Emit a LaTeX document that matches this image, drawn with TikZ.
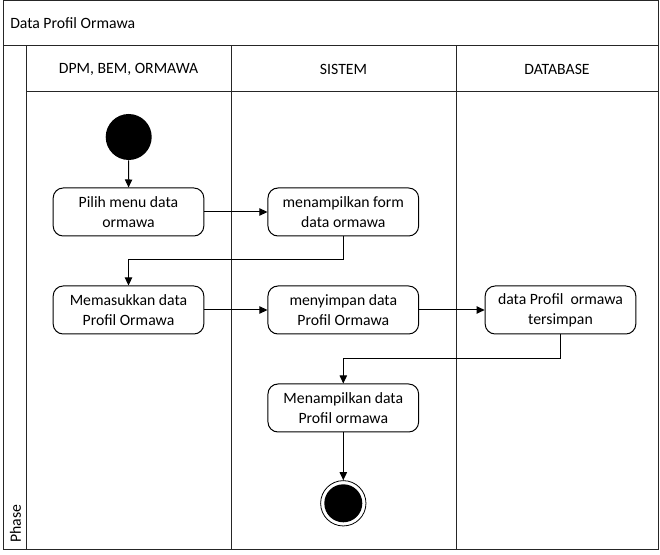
\documentclass[tikz,border=0pt]{standalone}
\usepackage{fontspec}
\setmainfont{Carlito}
\usetikzlibrary{arrows.meta}
\begin{document}
\begin{tikzpicture}[x=0.75pt,y=-0.75pt,
  frame/.style={draw=black!85,line width=0.75pt},
  act/.style={draw=black,line width=0.75pt,rounded corners=7.5pt,minimum width=113pt,minimum height=36pt,align=center,inner sep=0pt,font=\fontsize{11.8}{15}\selectfont},
  lbl/.style={font=\fontsize{11.8}{14}\selectfont,inner sep=0pt},
  flow/.style={draw=black,line width=0.75pt,-{Triangle[width=5.5pt,length=6pt]}}]
\useasboundingbox (0,0) rectangle (660,555);
% frame
\draw[frame] (3,1) rectangle (658,549);
\draw[frame] (3,46) -- (658,46);
\draw[frame] (26,46) -- (26,549);
\draw[frame] (26,92) -- (658,92);
\draw[frame] (231,46) -- (231,549);
\draw[frame] (456,46) -- (456,549);
% labels
\node[lbl,anchor=west] (title) at (10,23) {Data Profil Ormawa};
\node[lbl] (h1) at (128.5,69) {DPM, BEM, ORMAWA};
\node[lbl] (h2) at (343.5,69) {SISTEM};
\node[lbl] (h3) at (557,69) {DATABASE};
\node[lbl,rotate=90,anchor=west] (phase) at (15.5,543) {Phase};
% nodes
\node[circle,fill=black,minimum size=34.5pt,inner sep=0pt] (start) at (128.7,137) {};
\node[act] (a1) at (128.5,212) {Pilih menu data\\ormawa};
\node[act] (a2) at (343.3,212) {menampilkan form\\data ormawa};
\node[act] (a3) at (128.5,310) {Memasukkan data\\Profil Ormawa};
\node[act] (a4) at (343.3,310) {menyimpan data\\Profil Ormawa};
\node[act] (a5) at (560.5,310) {data Profil\ \ ormawa\\tersimpan};
\node[act] (a6) at (343.3,408) {Menampilkan data\\Profil ormawa};
\node[circle,draw=black,line width=0.6pt,minimum size=34pt,inner sep=0pt] (end) at (343.3,503.3) {};
\node[circle,fill=black,minimum size=28.5pt,inner sep=0pt] (endin) at (343.3,503.3) {};
% connectors
\draw[flow] (start) -- (a1);
\draw[flow] (a1) -- (a2);
\draw[flow] (a2.south) -- (343.3,260) -| (a3.north);
\draw[flow] (a3) -- (a4);
\draw[flow] (a4) -- (a5);
\draw[flow] (a5.south) -- (560.5,358.3) -| (a6.north);
\draw[flow] (a6) -- (end);
\end{tikzpicture}
\end{document}
